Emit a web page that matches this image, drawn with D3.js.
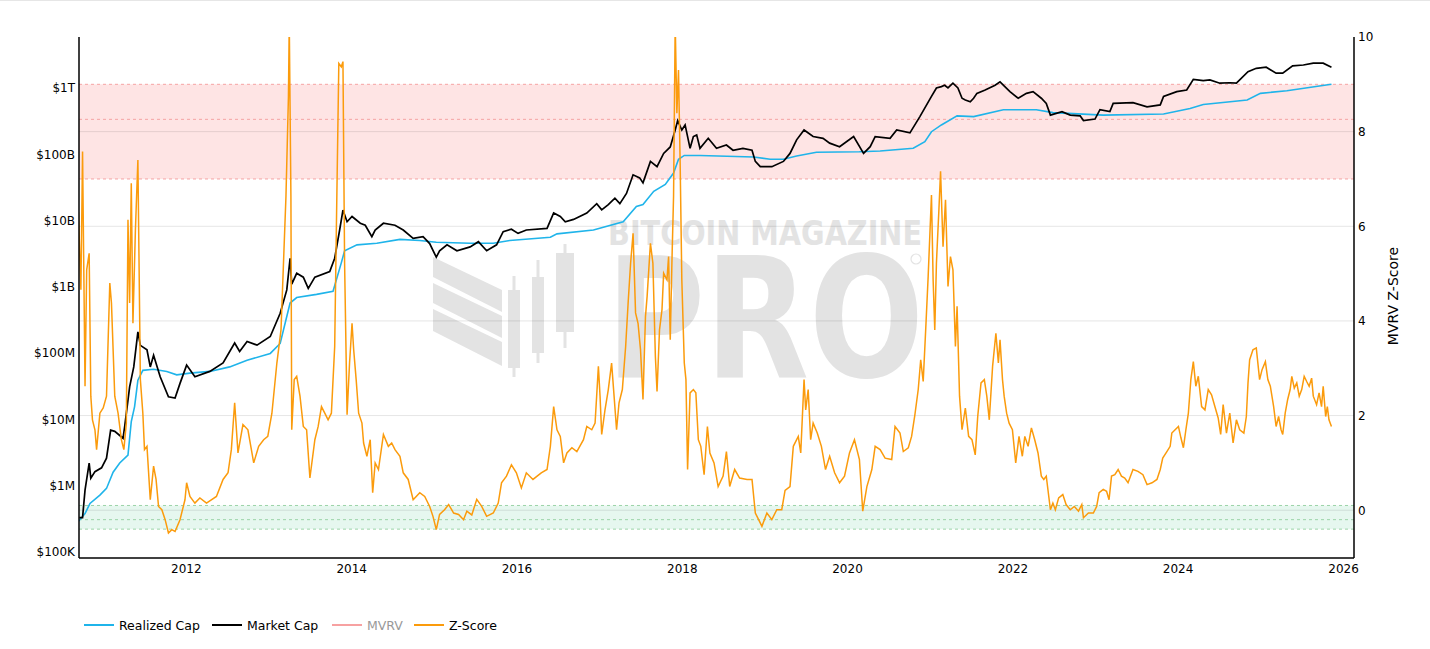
<!DOCTYPE html>
<html lang="en">
<head>
<meta charset="utf-8">
<script src="https://cdn.jsdelivr.net/npm/d3@7"></script>
<title>MVRV Z-Score</title>
<style>
  body { margin: 0; background: #fff; }
  text { font-family: "DejaVu Sans", Verdana, sans-serif; }
</style>
</head>
<body>
<script>
var w = 1430;
var h = 649;

// dates are decimal years, caps in $ millions
var realizedCap = [[2010.70,0.29],[2010.78,0.38],[2010.84,0.54],[2010.96,0.72],[2011.04,0.91],[2011.12,1.6],
  [2011.20,2.2],[2011.30,2.9],[2011.34,9.3],[2011.38,15.6],[2011.42,39],[2011.48,55],[2011.61,57],[2011.77,53],
  [2011.89,47],[2012.05,50],[2012.29,53],[2012.53,62],[2012.74,78],[2013.02,99],[2013.14,140],[2013.26,570],
  [2013.34,690],[2013.58,770],[2013.78,860],[2013.88,2300],[2013.92,3500],[2014.07,4300],[2014.31,4550],
  [2014.59,5200],[2014.83,5000],[2015.03,4700],[2015.44,4550],[2015.72,4550],[2015.92,5000],[2016.41,5600],
  [2016.49,6300],[2016.93,7200],[2017.29,9600],[2017.45,16300],[2017.53,17400],[2017.66,27600],[2017.80,35000],
  [2017.90,52000],[2017.96,84000],[2018.03,96000],[2018.22,96000],[2018.87,91000],[2019.07,84000],[2019.23,84000],
  [2019.39,94000],[2019.63,107000],[2020.15,109000],[2020.40,112000],[2020.80,123000],[2020.94,155000],
  [2021.02,219000],[2021.14,277000],[2021.33,380000],[2021.53,370000],[2021.89,470000],[2022.29,470000],
  [2022.49,425000],[2023.10,390000],[2023.83,405000],[2024.15,490000],[2024.31,565000],[2024.84,660000],
  [2025.00,830000],[2025.32,910000],[2025.86,1140000]];

var marketCap = [[2010.71,0.33],[2010.75,0.33],[2010.78,0.86],[2010.83,2.2],[2010.85,1.3],[2010.90,1.63],
  [2010.98,1.86],[2011.04,2.6],[2011.09,6.9],[2011.14,6.6],[2011.24,5.2],[2011.26,7.8],[2011.32,31],[2011.37,62],
  [2011.42,209],[2011.45,131],[2011.53,112],[2011.57,62],[2011.61,93],[2011.69,44],[2011.79,22],[2011.87,21],
  [2011.93,35],[2012.01,66],[2012.11,44],[2012.29,53],[2012.45,71],[2012.59,142],[2012.65,106],[2012.74,150],
  [2012.86,132],[2013.02,178],[2013.14,400],[2013.22,900],[2013.26,2700],[2013.28,1100],[2013.34,1600],
  [2013.42,1400],[2013.48,950],[2013.56,1400],[2013.74,1700],[2013.80,2700],[2013.86,7200],[2013.90,14400],
  [2013.95,9600],[2014.01,11500],[2014.11,9100],[2014.17,8500],[2014.25,5700],[2014.29,7200],[2014.39,9100],
  [2014.53,8500],[2014.63,7200],[2014.75,5400],[2014.87,5700],[2014.95,4500],[2015.03,2800],[2015.07,3500],
  [2015.16,4300],[2015.28,3500],[2015.44,4000],[2015.54,4800],[2015.64,3500],[2015.76,4300],[2015.84,6800],
  [2015.94,7400],[2016.02,6400],[2016.12,7200],[2016.37,7600],[2016.45,13000],[2016.53,11500],[2016.59,9600],
  [2016.69,10400],[2016.85,13000],[2016.97,18000],[2017.03,14500],[2017.11,17400],[2017.19,21800],[2017.25,18000],
  [2017.33,25600],[2017.41,49000],[2017.49,44000],[2017.53,37000],[2017.62,78000],[2017.70,65000],[2017.78,103000],
  [2017.86,129000],[2017.92,232000],[2017.95,322000],[2018.00,232000],[2018.04,277000],[2018.10,123000],
  [2018.14,185000],[2018.18,196000],[2018.22,123000],[2018.32,174000],[2018.42,123000],[2018.54,138000],
  [2018.62,115000],[2018.74,123000],[2018.85,115000],[2018.89,78000],[2018.95,65000],[2019.09,65000],
  [2019.23,78000],[2019.31,103000],[2019.39,165000],[2019.48,232000],[2019.59,185000],[2019.71,174000],
  [2019.79,147000],[2019.91,130000],[2020.08,185000],[2020.20,103000],[2020.28,130000],[2020.34,185000],
  [2020.52,174000],[2020.60,232000],[2020.76,210000],[2020.88,370000],[2021.02,745000],[2021.08,1000000],
  [2021.14,1050000],[2021.18,1100000],[2021.22,1000000],[2021.28,1180000],[2021.34,1000000],[2021.39,700000],
  [2021.43,660000],[2021.49,620000],[2021.53,700000],[2021.57,830000],[2021.67,930000],
  [2021.79,1100000],[2021.85,1240000],[2021.97,880000],[2022.07,700000],[2022.17,830000],[2022.25,880000],
  [2022.35,700000],[2022.41,585000],[2022.46,390000],[2022.60,440000],[2022.70,390000],[2022.82,380000],
  [2022.86,322000],[2023.00,340000],[2023.06,470000],[2023.18,440000],[2023.22,585000],[2023.46,600000],
  [2023.63,520000],[2023.79,555000],[2023.83,745000],[2023.99,880000],[2024.11,930000],[2024.19,1350000],
  [2024.31,1290000],[2024.39,1320000],[2024.51,1180000],[2024.63,1200000],[2024.71,1180000],[2024.85,1760000],
  [2024.95,1980000],[2025.07,2060000],[2025.19,1670000],[2025.27,1670000],[2025.39,2150000],[2025.52,2220000],
  [2025.64,2370000],[2025.76,2370000],[2025.86,2060000]];

var zScore = [[2010.70,6.3],[2010.73,4.66],[2010.75,7.58],[2010.78,2.62],[2010.80,5.08],[2010.83,5.43],
  [2010.85,2.41],[2010.87,1.91],[2010.90,1.70],[2010.92,1.28],[2010.96,2.05],[2011.00,2.16],[2011.04,2.41],
  [2011.08,4.80],[2011.10,4.38],[2011.14,2.41],[2011.18,2.05],[2011.22,1.49],[2011.25,1.28],[2011.28,1.84],
  [2011.30,6.14],[2011.32,4.38],[2011.34,6.91],[2011.36,3.95],[2011.39,5.92],[2011.42,7.40],[2011.45,2.76],
  [2011.48,2.05],[2011.50,1.28],[2011.53,1.35],[2011.57,0.22],[2011.61,0.93],[2011.64,0.65],[2011.67,0.08],
  [2011.71,0.01],[2011.75,-0.2],[2011.79,-0.48],[2011.83,-0.41],[2011.87,-0.45],[2011.93,-0.2],[2011.99,0.22],
  [2012.01,0.58],[2012.05,0.29],[2012.11,0.15],[2012.17,0.26],[2012.25,0.15],[2012.37,0.29],[2012.45,0.65],
  [2012.51,0.79],[2012.55,1.28],[2012.59,2.27],[2012.63,1.21],[2012.69,1.81],[2012.75,1.70],[2012.82,1.0],
  [2012.88,1.35],[2012.94,1.49],[2012.99,1.56],[2013.04,2.05],[2013.10,3.11],[2013.15,3.81],[2013.18,5.22],
  [2013.21,6.63],[2013.24,8.74],[2013.25,10.3],[2013.27,6.63],[2013.28,1.70],[2013.31,2.76],[2013.34,2.83],
  [2013.38,2.41],[2013.42,1.77],[2013.46,1.70],[2013.50,0.68],[2013.56,1.49],[2013.60,1.77],[2013.64,2.19],
  [2013.68,2.05],[2013.72,1.91],[2013.76,2.05],[2013.80,3.46],[2013.82,5.92],[2013.85,9.44],[2013.88,9.37],
  [2013.90,9.48],[2013.92,5.22],[2013.95,2.02],[2013.98,3.11],[2014.01,3.95],[2014.03,3.39],[2014.06,2.76],
  [2014.09,2.05],[2014.13,1.84],[2014.15,1.42],[2014.19,1.14],[2014.23,1.49],[2014.26,0.37],[2014.29,1.0],
  [2014.33,0.86],[2014.39,1.60],[2014.45,1.35],[2014.49,1.42],[2014.53,1.28],[2014.59,1.14],[2014.63,0.79],
  [2014.69,0.65],[2014.75,0.22],[2014.83,0.37],[2014.89,0.29],[2014.95,0.08],[2014.99,-0.13],[2015.03,-0.41],
  [2015.07,-0.09],[2015.13,0.01],[2015.18,0.12],[2015.24,-0.06],[2015.30,-0.09],[2015.36,-0.2],[2015.40,-0.02],
  [2015.46,-0.1],[2015.52,0.23],[2015.58,0.08],[2015.64,-0.13],[2015.72,-0.06],[2015.78,0.15],[2015.82,0.58],
  [2015.88,0.72],[2015.94,0.96],[2016.00,0.79],[2016.06,0.47],[2016.12,0.79],[2016.20,0.65],[2016.30,0.79],
  [2016.37,0.86],[2016.41,1.35],[2016.45,2.19],[2016.49,1.70],[2016.53,1.56],[2016.57,1.0],[2016.61,1.21],
  [2016.67,1.32],[2016.73,1.24],[2016.81,1.49],[2016.85,1.77],[2016.91,1.70],[2016.95,1.84],[2016.99,3.04],
  [2017.01,2.41],[2017.03,1.60],[2017.07,2.12],[2017.11,2.55],[2017.15,3.11],[2017.18,2.41],[2017.21,1.70],
  [2017.24,2.27],[2017.28,2.55],[2017.32,3.46],[2017.35,4.38],[2017.38,5.22],[2017.41,5.85],[2017.44,4.17],
  [2017.47,3.95],[2017.50,3.39],[2017.53,2.34],[2017.56,4.09],[2017.58,4.52],[2017.62,5.64],[2017.65,5.22],
  [2017.68,3.25],[2017.70,2.51],[2017.73,3.81],[2017.76,4.24],[2017.78,5.01],[2017.82,4.87],[2017.84,5.36],
  [2017.86,3.60],[2017.88,5.22],[2017.90,6.63],[2017.92,10.3],[2017.94,8.39],[2017.96,9.30],[2017.98,7.33],
  [2018.00,4.87],[2018.03,3.11],[2018.05,2.76],[2018.07,0.86],[2018.10,2.48],[2018.14,2.55],[2018.17,2.48],
  [2018.20,1.49],[2018.23,1.35],[2018.27,0.75],[2018.31,1.77],[2018.34,1.21],[2018.39,1.0],[2018.44,0.50],
  [2018.50,0.72],[2018.54,1.24],[2018.58,0.50],[2018.64,0.86],[2018.70,0.68],[2018.79,0.65],[2018.85,0.65],
  [2018.89,-0.06],[2018.93,-0.2],[2018.97,-0.34],[2019.03,-0.06],[2019.09,-0.2],[2019.15,0.01],[2019.21,0.01],
  [2019.25,0.42],[2019.31,0.5],[2019.35,1.35],[2019.41,1.56],[2019.44,1.21],[2019.48,2.76],[2019.50,2.12],
  [2019.53,2.55],[2019.56,1.49],[2019.59,1.84],[2019.64,1.63],[2019.69,1.35],[2019.74,0.86],[2019.79,1.14],
  [2019.85,0.79],[2019.91,0.58],[2019.97,0.72],[2020.03,1.21],[2020.09,1.49],[2020.15,1.07],[2020.19,-0.02],
  [2020.24,0.5],[2020.30,0.86],[2020.34,1.35],[2020.40,1.28],[2020.46,1.10],[2020.54,1.07],[2020.58,1.77],
  [2020.64,1.63],[2020.68,1.24],[2020.74,1.32],[2020.78,1.56],[2020.82,2.02],[2020.86,2.55],[2020.89,3.18],
  [2020.92,2.72],[2020.95,3.81],[2020.98,4.94],[2021.02,6.66],[2021.04,4.87],[2021.06,3.81],[2021.08,5.22],
  [2021.11,6.35],[2021.13,7.16],[2021.16,5.57],[2021.19,6.56],[2021.22,4.73],[2021.25,5.36],[2021.28,5.08],
  [2021.31,3.46],[2021.33,4.31],[2021.36,2.41],[2021.39,1.70],[2021.43,2.16],[2021.47,1.56],[2021.51,1.49],
  [2021.55,1.17],[2021.58,1.98],[2021.62,2.69],[2021.66,2.76],[2021.69,2.41],[2021.72,1.91],[2021.76,3.04],
  [2021.80,3.74],[2021.83,3.11],[2021.85,3.60],[2021.88,2.76],[2021.90,2.41],[2021.93,2.05],[2021.96,1.84],
  [2022.00,1.70],[2022.04,1.0],[2022.08,1.56],[2022.12,1.14],[2022.15,1.56],[2022.19,1.35],[2022.23,1.74],
  [2022.27,1.49],[2022.31,1.21],[2022.35,0.72],[2022.38,0.65],[2022.41,0.72],[2022.46,0.01],[2022.49,0.15],
  [2022.52,0.01],[2022.56,0.26],[2022.61,0.33],[2022.65,0.12],[2022.70,0.01],[2022.75,0.08],[2022.80,-0.02],
  [2022.84,0.12],[2022.86,-0.16],[2022.92,-0.06],[2022.98,-0.06],[2023.02,0.08],[2023.05,0.37],[2023.10,0.44],
  [2023.14,0.40],[2023.17,0.22],[2023.20,0.72],[2023.24,0.75],[2023.28,0.86],[2023.32,0.72],[2023.36,0.68],
  [2023.40,0.58],[2023.46,0.86],[2023.52,0.82],[2023.58,0.75],[2023.63,0.54],[2023.69,0.58],[2023.75,0.65],
  [2023.79,0.86],[2023.82,1.10],[2023.87,1.24],[2023.91,1.35],[2023.93,1.63],[2023.97,1.70],[2024.01,1.77],
  [2024.04,1.53],[2024.07,1.32],[2024.10,1.70],[2024.13,2.05],[2024.16,2.76],[2024.19,3.14],[2024.22,2.62],
  [2024.25,2.83],[2024.29,2.19],[2024.33,2.12],[2024.37,2.55],[2024.41,2.44],[2024.45,2.19],[2024.49,1.95],
  [2024.52,1.60],[2024.55,2.23],[2024.59,1.63],[2024.63,2.05],[2024.67,1.42],[2024.71,1.91],[2024.75,1.70],
  [2024.80,1.63],[2024.83,1.98],[2024.85,2.69],[2024.87,3.18],[2024.91,3.39],[2024.95,3.43],[2024.99,2.76],
  [2025.02,2.97],[2025.06,3.14],[2025.09,2.76],[2025.12,2.62],[2025.16,2.19],[2025.19,1.77],[2025.22,1.98],
  [2025.25,1.70],[2025.27,1.60],[2025.30,2.05],[2025.33,2.34],[2025.36,2.55],[2025.38,2.83],[2025.41,2.58],
  [2025.44,2.69],[2025.47,2.41],[2025.50,2.55],[2025.53,2.83],[2025.56,2.72],[2025.59,2.62],[2025.62,2.79],
  [2025.64,2.41],[2025.68,2.23],[2025.71,2.48],[2025.74,2.19],[2025.76,2.62],[2025.79,1.98],[2025.81,2.19],
  [2025.83,1.91],[2025.86,1.77]];

var capTicks = [0.1, 1, 10, 100, 1e3, 1e4, 1e5, 1e6];
var capLabels = ["$100K", "$1M", "$10M", "$100M", "$1B", "$10B", "$100B", "$1T"];
var zTicks = [0, 2, 4, 6, 8, 10];
var yearTicks = [2012, 2014, 2016, 2018, 2020, 2022, 2024, 2026];
var redBand = [7, 8.26, 9];     // overvalued zone, dashed lines
var greenBand = [-0.4, -0.2, 0.1]; // undervalued zone, dashed lines

var legendItems = [
  {name: "Realized Cap", color: "#1fb4ea", on: true},
  {name: "Market Cap", color: "#000", on: true},
  {name: "MVRV", color: "#f7a1a1", on: false},
  {name: "Z-Score", color: "#fb9b0c", on: true}
];

// decimal year -> Date
function yd(t) {
  var y = Math.floor(t);
  var s = Date.UTC(y, 0, 1), e = Date.UTC(y + 1, 0, 1);
  return new Date(s + (t - y) * (e - s));
}

var pl = 79, pr = 1354, pt = 37, pb = 558;

var x = d3.scaleUtc()
  .domain([yd(2010.707), yd(2026.133)])
  .range([pl, pr]);

var yCap = d3.scaleLog()
  .domain([Math.pow(10, -1.0905), Math.pow(10, 6.769)])
  .range([pb, pt]);

var yZ = d3.scaleLinear()
  .domain([-1.01, 10])
  .range([pb, pt]);

var svg = d3.select("body").append("svg")
  .attr("width", w)
  .attr("height", h);

svg.append("line")
  .attr("x1", 0).attr("x2", w).attr("y1", 0.5).attr("y2", 0.5)
  .attr("stroke", "#e6e6e6");

svg.append("clipPath").attr("id", "plot")
  .append("rect")
  .attr("x", pl).attr("y", pt)
  .attr("width", pr - pl).attr("height", pb - pt);

// zones
function band(levels, fill, stroke) {
  svg.append("rect")
    .attr("x", pl).attr("width", pr - pl)
    .attr("y", yZ(levels[levels.length - 1]))
    .attr("height", yZ(levels[0]) - yZ(levels[levels.length - 1]))
    .attr("fill", fill);
  svg.append("g").selectAll("line").data(levels).enter().append("line")
    .attr("x1", pl).attr("x2", pr)
    .attr("y1", function(d) { return yZ(d); })
    .attr("y2", function(d) { return yZ(d); })
    .attr("stroke", stroke)
    .attr("stroke-dasharray", "3,3");
}
band(redBand, "#fee4e4", "#f5a3a3");
band(greenBand, "#e6f7ef", "#9cd3a8");

// watermark (sits under the grid)
var wm = svg.append("g").attr("fill", "#e3e3e3");
wm.append("text")
  .attr("x", 608).attr("y", 245)
  .attr("textLength", 314).attr("lengthAdjust", "spacingAndGlyphs")
  .style("font-family", "'DejaVu Sans', sans-serif")
  .style("font-weight", "bold").style("font-size", "33px")
  .text("BITCOIN MAGAZINE");
wm.append("text")
  .attr("x", 606).attr("y", 377)
  .attr("textLength", 318).attr("lengthAdjust", "spacingAndGlyphs")
  .style("font-family", "'DejaVu Sans', sans-serif")
  .style("font-weight", "bold").style("font-size", "168px")
  .text("PRO");
wm.append("circle").attr("cx", 916).attr("cy", 259).attr("r", 5)
  .attr("fill", "none").attr("stroke", "#e3e3e3").attr("stroke-width", 1.2);
var stripes = [[257, 277], [283, 303], [309, 331]];
stripes.forEach(function(s) {
  wm.append("polygon").attr("points",
    [[433, s[0]], [502, s[0] + 33], [502, s[1] + 35], [433, s[1]]].join(" "));
});
var candles = [[508, 520, 290, 368, 276, 377], [532, 544, 277, 353, 260, 363], [556, 574, 253, 332, 244, 348]];
candles.forEach(function(c) {
  wm.append("rect").attr("x", c[0]).attr("y", c[2]).attr("width", c[1] - c[0]).attr("height", c[3] - c[2]);
  wm.append("rect").attr("x", (c[0] + c[1]) / 2 - 1.5).attr("y", c[4]).attr("width", 3).attr("height", c[5] - c[4]);
});

// grid from the right axis
svg.append("g").selectAll("line")
  .data(zTicks.slice(0, -1)).enter().append("line")
  .attr("x1", pl).attr("x2", pr)
  .attr("y1", function(d) { return yZ(d); })
  .attr("y2", function(d) { return yZ(d); })
  .attr("stroke", "#000").attr("stroke-opacity", 0.1);

// series
var plot = svg.append("g").attr("clip-path", "url(#plot)");

var capLine = d3.line()
  .x(function(d) { return x(yd(d[0])); })
  .y(function(d) { return yCap(d[1]); });
var zLine = d3.line()
  .x(function(d) { return x(yd(d[0])); })
  .y(function(d) { return yZ(d[1]); });

plot.append("path").datum(realizedCap)
  .attr("d", capLine).attr("fill", "none")
  .attr("stroke", legendItems[0].color).attr("stroke-width", 1.6);
plot.append("path").datum(marketCap)
  .attr("d", capLine).attr("fill", "none")
  .attr("stroke", legendItems[1].color).attr("stroke-width", 1.7);
plot.append("path").datum(zScore)
  .attr("d", zLine).attr("fill", "none")
  .attr("stroke", legendItems[3].color).attr("stroke-width", 1.5);

// axes
var axisL = svg.append("g")
  .attr("transform", "translate(" + pl + ",0)")
  .call(d3.axisLeft(yCap).tickValues(capTicks).tickSize(0).tickPadding(4)
    .tickFormat(function(d, i) { return capLabels[i]; }));
var axisR = svg.append("g")
  .attr("transform", "translate(" + pr + ",0)")
  .call(d3.axisRight(yZ).tickValues(zTicks).tickSize(0).tickPadding(4));
var axisB = svg.append("g")
  .attr("transform", "translate(0," + pb + ")")
  .call(d3.axisBottom(x).tickValues(yearTicks.map(function(d) { return yd(d); }))
    .tickSize(0).tickPadding(6).tickFormat(d3.utcFormat("%Y")));

[axisL, axisR, axisB].forEach(function(a) {
  a.select(".domain").attr("stroke", "#000").attr("stroke-width", 1.5);
  a.selectAll("text").attr("fill", "#000")
    .style("font-family", "'DejaVu Sans', sans-serif").style("font-size", "12px");
});
axisL.select(".domain").attr("d", "M0," + pt + "V" + pb);
axisR.select(".domain").attr("d", "M0," + pt + "V" + pb);
axisB.select(".domain").attr("d", "M" + pl + ",0H" + pr);

svg.append("text")
  .attr("transform", "translate(1398,296) rotate(-90)")
  .attr("text-anchor", "middle")
  .style("font-size", "14px")
  .text("MVRV Z-Score");

// legend
var legendX = [84, 212, 332, 414];
var legend = svg.selectAll(".leg").data(legendItems).enter().append("g")
  .attr("class", "leg")
  .attr("transform", function(d, i) { return "translate(" + legendX[i] + ",625)"; });
legend.append("line")
  .attr("x1", 0).attr("x2", 30).attr("y1", 0).attr("y2", 0)
  .attr("stroke", function(d) { return d.color; }).attr("stroke-width", 2);
legend.append("text")
  .attr("x", 35).attr("y", 4.5)
  .attr("fill", function(d) { return d.on ? "#000" : "#999"; })
  .style("font-size", "12.5px")
  .text(function(d) { return d.name; });
</script>
</body>
</html>
